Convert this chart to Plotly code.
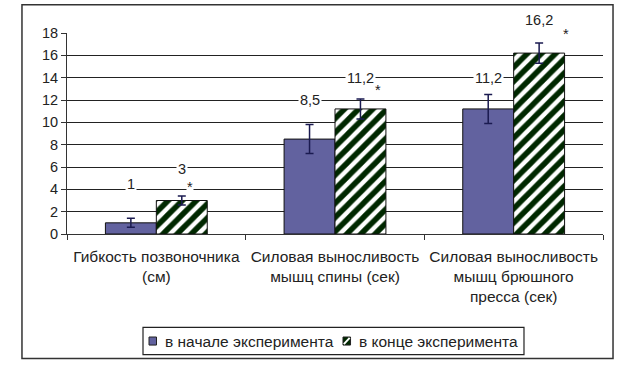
import plotly.graph_objects as go

categories = ["Гибкость позвоночника<br>(см)",
              "Силовая выносливость<br>мышц спины (сек)",
              "Силовая выносливость<br>мышц брюшного<br>пресса (сек)"]
start_vals = [1.0, 8.5, 11.2]
start_err = [0.4, 1.3, 1.3]
end_vals = [3.0, 11.2, 16.2]
end_err = [0.4, 0.9, 0.9]
start_labels = ["1", "8,5", "11,2"]
end_labels = ["3", "11,2", "16,2"]
series_names = ["в начале эксперимента", "в конце эксперимента"]
yticks = [0, 2, 4, 6, 8, 10, 12, 14, 16, 18]
YMAX = 18

# annotation placement (styling, not data)
start_label_y = [4.5, 12.0, 14.0]
end_label_y = [5.8, 14.0, 19.2]
star_y = [4.2, 12.9, 17.9]
star_shift = [34, 43, 52]

FAM = "Liberation Sans, Arial, sans-serif"
TXT = "#222222"
font_tick = dict(family=FAM, size=14.5, color=TXT)
font_cat = dict(family=FAM, size=15.5, color=TXT)
font_leg = dict(family=FAM, size=15.5, color=TXT)

BLUE = "#62629F"
GREEN = "#002800"

fig = go.Figure()
fig.add_trace(go.Bar(
    x=categories, y=start_vals, name=series_names[0],
    marker=dict(color=BLUE, line=dict(color="#111111", width=1)),
    error_y=dict(type="data", array=start_err, color="#1a1a50", thickness=1.5, width=4),
    showlegend=False,
))
fig.add_trace(go.Bar(
    x=categories, y=end_vals, name=series_names[1],
    marker=dict(color="white", line=dict(color="#111111", width=1),
                pattern=dict(shape="/", fgcolor=GREEN, bgcolor="white", size=10,
                             solidity=0.55, fgopacity=1)),
    error_y=dict(type="data", array=end_err, color="#1a1a50", thickness=1.5, width=4),
    showlegend=False,
))

ann = []
common = dict(xref="x", yref="paper", xanchor="center", yanchor="middle",
              showarrow=False, bgcolor="white")
for i, c in enumerate(categories):
    ann.append(dict(x=c, y=start_label_y[i] / YMAX, text=start_labels[i],
                    xshift=-25.5, font=font_tick, borderpad=1, **common))
    ann.append(dict(x=c, y=end_label_y[i] / YMAX, text=end_labels[i],
                    xshift=25.5, font=font_tick, borderpad=1, **common))
    ann.append(dict(x=c, y=star_y[i] / YMAX, text="*",
                    xshift=star_shift[i], font=font_tick, borderpad=0, **common))

# custom legend (compact, as in the reference)
ann.append(dict(x=0.1791, y=-0.5325, xref="paper", yref="paper", xanchor="left", yanchor="middle",
                text=series_names[0], showarrow=False, font=font_leg))
ann.append(dict(x=0.541, y=-0.5325, xref="paper", yref="paper", xanchor="left", yanchor="middle",
                text=series_names[1], showarrow=False, font=font_leg))
fig.update_layout(annotations=ann)

shapes = [
    # outer frame
    dict(type="rect", xref="paper", yref="paper", x0=-0.084, x1=1.0187, y0=-0.62, y1=1.14,
         line=dict(color="#333333", width=1.5), layer="below"),
    # legend box
    dict(type="rect", xref="paper", yref="paper", x0=0.1418, x1=0.8526, y0=-0.60, y1=-0.465,
         line=dict(color="#222222", width=1.2), fillcolor="white"),
    # legend swatches
    dict(type="rect", xref="paper", yref="paper", x0=0.153, x1=0.167, y0=-0.5525, y1=-0.5125,
         line=dict(color="#222222", width=1), fillcolor=BLUE),
    dict(type="rect", xref="paper", yref="paper", x0=0.5149, x1=0.529, y0=-0.5525, y1=-0.5125,
         line=dict(color="#222222", width=1), fillcolor=GREEN),
    dict(type="line", xref="paper", yref="paper", x0=0.5165, x1=0.5274, y0=-0.548, y1=-0.517,
         line=dict(color="white", width=2)),
]
fig.update_layout(shapes=shapes)

fig.update_layout(
    width=628, height=370,
    margin=dict(l=67, r=25, t=33, b=136),
    paper_bgcolor="white", plot_bgcolor="white",
    barmode="group", bargap=0.43, bargroupgap=0,
    font=font_tick,
    showlegend=False,
    xaxis=dict(type="category", showline=True, linecolor="#333333", linewidth=1,
               ticks="outside", tickson="boundaries", ticklen=5, tickcolor="#333333",
               showgrid=False, tickfont=font_cat, ticklabelstandoff=8),
    yaxis=dict(range=[0, YMAX], tickvals=yticks, showline=True, linecolor="#333333", linewidth=1,
               ticks="outside", ticklen=5, tickcolor="#333333",
               showgrid=True, gridcolor="#222222", gridwidth=1, zeroline=False,
               tickfont=font_tick),
)
fig.write_html("out.html", config={"displayModeBar": False},
               post_script="document.body.style.margin='0';")
